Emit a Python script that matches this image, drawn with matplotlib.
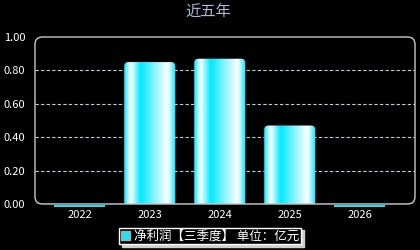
import numpy as np
import matplotlib
matplotlib.use("Agg")
import matplotlib.pyplot as plt
from matplotlib.patches import FancyBboxPatch, Patch
from matplotlib.colors import LinearSegmentedColormap

plt.rcParams['font.family'] = ['Noto Sans CJK SC', 'DejaVu Sans']

# data
years = ['2022', '2023', '2024', '2025', '2026']
profit = [0.0, 0.85, 0.87, 0.47, 0.0]
yticks = [0.0, 0.2, 0.4, 0.6, 0.8, 1.0]
title = '近五年'
legend_label = '净利润【三季度】 单位：亿元'

# horizontal "cylinder" shading for the bars
shade = LinearSegmentedColormap.from_list('shade', [
    (0.00, '#19e6ff'), (0.12, '#ffffff'), (0.32, '#00eaff'),
    (0.60, '#8ff4ff'), (0.85, '#ffffff'), (1.00, '#10e4ff')])

fig = plt.figure(figsize=(4.2, 2.5), dpi=100, facecolor='black')
ax = fig.add_axes([35 / 420, 46 / 250, 380 / 420, 167 / 250])
ax.set_facecolor('black')

x = np.arange(len(years))
w = 0.73

for i, v in enumerate(profit):
    if v == 0:
        # zero values show as a thin cyan strip under the axis line
        ax.bar(x[i], -0.014, w, bottom=-0.005, color='#22dcef',
               clip_on=False, zorder=5)
        continue
    im = ax.imshow(np.linspace(0, 1, 64)[None, :], cmap=shade, aspect='auto',
                   extent=(x[i] - w / 2, x[i] + w / 2, 0, v), zorder=3,
                   interpolation='bilinear')
    clip = FancyBboxPatch((x[i] - w / 2, -0.1), w, v + 0.1,
                          boxstyle='round,pad=0,rounding_size=0.06',
                          mutation_aspect=0.42, transform=ax.transData,
                          facecolor='none', edgecolor='none')
    ax.add_patch(clip)
    im.set_clip_path(clip)
ax.set_xlim(-0.64, 4.79)
ax.set_ylim(0, 1.0)

for y in yticks[1:-1]:
    ax.axhline(y, color='#b8d0e0', lw=0.8, ls=(0, (3, 2)), zorder=1)

for s in ax.spines.values():
    s.set_visible(False)
frame = FancyBboxPatch((0, 0), 1, 1, boxstyle='round,pad=0,rounding_size=0.02',
                       mutation_aspect=2.2, transform=ax.transAxes,
                       facecolor='none', edgecolor='#c8c8c8', lw=1.0,
                       clip_on=False, zorder=4)
ax.add_patch(frame)
ax.axhline(0, color='#c8c8c8', lw=1.0, zorder=4)

ax.set_xticks(x)
ax.set_xticklabels(years)
ax.set_yticks(yticks)
ax.set_yticklabels([f'{t:.2f}' for t in yticks])
ax.tick_params(colors='white', labelsize=8, length=0, pad=4)
ax.tick_params(axis='y', pad=7)

fig.text(0.496, 0.952, title, color='#a8bcd8', fontsize=11, ha='center', va='center')

leg = fig.legend([Patch(facecolor='#22e4f8', edgecolor='#aaaaaa')], [legend_label],
                 loc='center', bbox_to_anchor=(0.5, 0.056), fontsize=9,
                 facecolor='black', edgecolor='white', framealpha=1, fancybox=False,
                 shadow={'color': '#d0d0c8', 'alpha': 1, 'ox': 2, 'oy': -2},
                 handlelength=0.7, handleheight=0.7, handletextpad=0.3,
                 borderpad=0.15, borderaxespad=0)
for t in leg.get_texts():
    t.set_color('white')

fig.savefig('out.png', dpi=100, facecolor='black')
